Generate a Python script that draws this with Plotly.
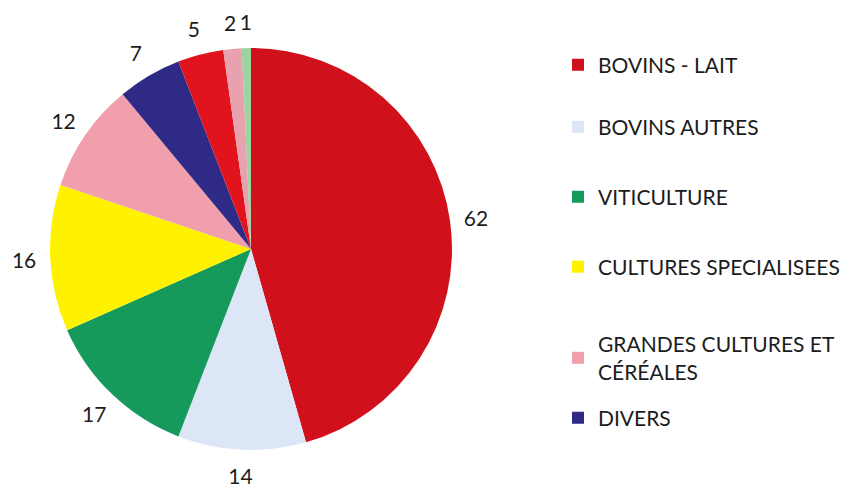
import plotly.graph_objects as go

labels = ["BOVINS - LAIT", "BOVINS AUTRES", "VITICULTURE", "CULTURES SPECIALISEES",
          "GRANDES CULTURES ET CÉRÉALES", "DIVERS", "AUTRE 1", "AUTRE 2", "AUTRE 3"]
values = [62, 14, 17, 16, 12, 7, 5, 2, 1]
colors = ["#D0101B", "#DDE6F7", "#159A5B", "#FFF200", "#F19FAD", "#2E2A86",
          "#E1141E", "#E7A1AF", "#9BD49E"]
legend_labels = ["BOVINS - LAIT", "BOVINS AUTRES", "VITICULTURE", "CULTURES SPECIALISEES",
                 "GRANDES CULTURES ET<br>CÉRÉALES", "DIVERS"]

W, H = 850, 488
FONT = "Lato"
TXT = "#1c1c1c"

# pie geometry (pixels, in figure coordinates; page adds an 8px body margin)
cx, cy, R = 243, 241, 201
label_r = 1.13
polar_range = 1.17
RP = R * polar_range
pcy = cy + 3  # text baseline compensation for the labels

fig = go.Figure()
fig.add_trace(go.Pie(
    labels=labels, values=values, sort=False, direction="clockwise", rotation=0,
    marker=dict(colors=colors, line=dict(width=0)),
    textinfo="none", showlegend=False, hoverinfo="label+value",
    domain=dict(x=[(cx - R) / W, (cx + R) / W], y=[1 - (cy + R) / H, 1 - (cy - R) / H]),
))

# value labels placed outside the pie through a polar axis aligned with it
total = sum(values)
theta = []
acc = 0
for v in values:
    theta.append((acc + v / 2) / total * 360)
    acc += v
fig.add_trace(go.Scatterpolar(
    r=[label_r] * len(values), theta=theta, mode="text",
    text=[str(v) for v in values],
    textfont=dict(family=FONT, size=21, color=TXT),
    showlegend=False, hoverinfo="skip", cliponaxis=False,
))

legend_y = [57, 119, 189, 259, 350, 410]
for i, name in enumerate(legend_labels):
    key = "legend" if i == 0 else f"legend{i + 1}"
    fig.add_trace(go.Scatter(
        x=[None], y=[None], mode="markers", name=name,
        marker=dict(symbol="square", size=12, color=colors[i]),
        legend=key, showlegend=True,
    ))
    fig.layout[key] = dict(
        x=550 / W, y=1 - legend_y[i] / H, xanchor="left", yanchor="middle",
        font=dict(family=FONT, size=21, color=TXT),
        bgcolor="rgba(0,0,0,0)", itemwidth=30,
    )

fig.update_layout(
    width=W, height=H, margin=dict(l=0, r=0, t=0, b=0),
    paper_bgcolor="white", plot_bgcolor="white",
    xaxis=dict(visible=False), yaxis=dict(visible=False),
    polar=dict(
        domain=dict(x=[(cx - RP) / W, (cx + RP) / W], y=[1 - (pcy + RP) / H, 1 - (pcy - RP) / H]),
        bgcolor="rgba(0,0,0,0)",
        radialaxis=dict(visible=False, range=[0, polar_range]),
        angularaxis=dict(visible=False, rotation=90, direction="clockwise"),
    ),
)
fig.write_html("out.html")
